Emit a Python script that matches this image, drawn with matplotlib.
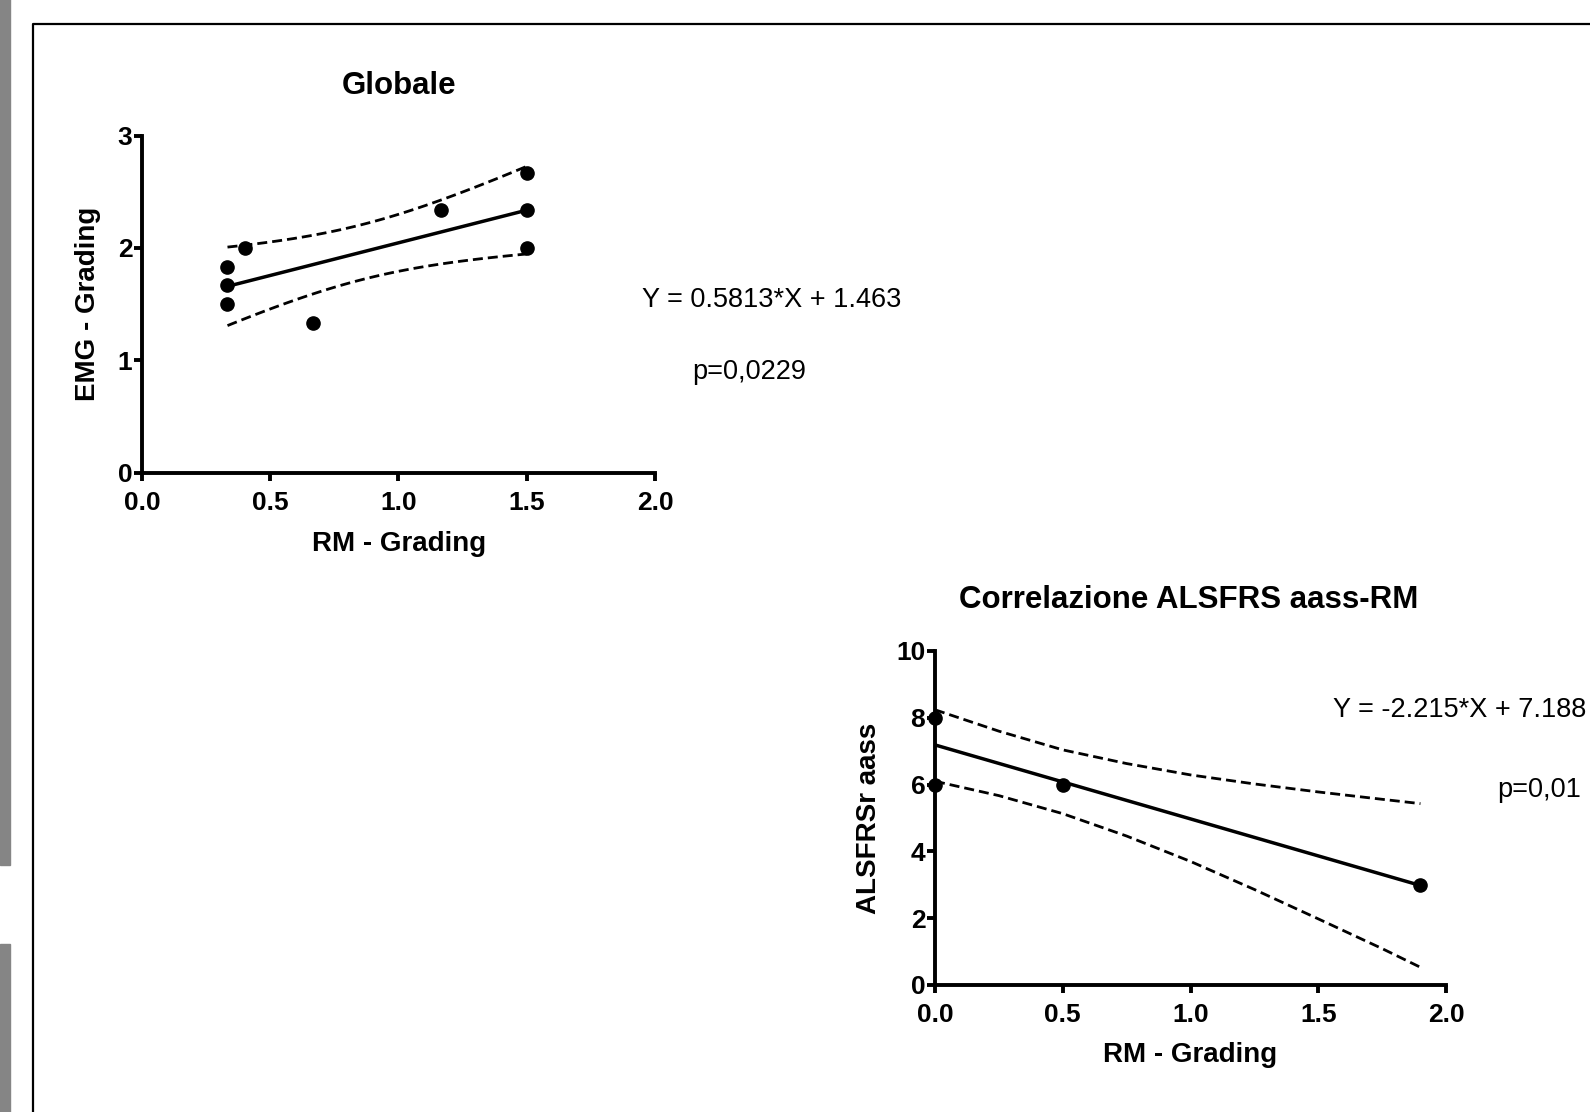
import matplotlib.pyplot as plt
import numpy as np
from matplotlib.patches import Rectangle
from matplotlib.lines import Line2D

W, H = 1590, 1112

# Globale: RM grading vs EMG grading
rm_glob = [1/3, 1/3, 1/3, 0.4, 2/3, 7/6, 1.5, 1.5, 1.5]
emg_glob = [1.833, 1.667, 1.5, 2.0, 1.333, 2.333, 2.667, 2.333, 2.0]
t_glob = 2.365  # t(0.975, df=7)

# Correlazione ALSFRS aass-RM
rm_als = [0, 0, 0.5, 1.9]
als = [8, 6, 6, 3]
slope_als, icpt_als = -2.215, 7.188
band_x = [0, 0.25, 0.5, 0.75, 1.0, 1.25, 1.5, 1.75, 1.9]
band_hi = [8.24, 7.60, 7.04, 6.63, 6.29, 6.02, 5.78, 5.56, 5.43]
band_lo = [6.10, 5.67, 5.13, 4.46, 3.70, 2.86, 1.98, 1.09, 0.53]

xticks = [0, 0.5, 1.0, 1.5, 2.0]
xticklabels = ['0.0', '0.5', '1.0', '1.5', '2.0']

plt.rcParams['font.family'] = ['Liberation Sans', 'DejaVu Sans']

fig = plt.figure(figsize=(W / 100, H / 100), dpi=100)


def fx(x):
    return x / W


def fy(y):
    return 1 - y / H


def axes_px(left, top, right, bottom):
    return fig.add_axes([fx(left), fy(bottom), (right - left) / W, (bottom - top) / H])


def style(ax, ylim, yticks):
    for s in ['top', 'right']:
        ax.spines[s].set_visible(False)
    for s in ['left', 'bottom']:
        ax.spines[s].set_linewidth(2.8)
    ax.set_xlim(0, 2)
    ax.set_ylim(*ylim)
    ax.set_xticks(xticks)
    ax.set_xticklabels(xticklabels)
    ax.set_yticks(yticks)
    ax.tick_params(width=2.8, length=6, labelsize=19)
    ax.tick_params(axis='x', pad=7)
    ax.tick_params(axis='y', pad=1)
    for lab in ax.get_xticklabels() + ax.get_yticklabels():
        lab.set_fontweight('bold')
    ax.patch.set_visible(False)


dash = (0, (3.6, 1.8))

# --- chart 1
ax1 = axes_px(142, 135.5, 655, 472.5)
style(ax1, (0, 3), [0, 1, 2, 3])
x1 = np.array(rm_glob)
y1 = np.array(emg_glob)
b, a = np.polyfit(x1, y1, 1)
xs = np.linspace(x1.min(), x1.max(), 60)
fit = a + b * xs
s = np.sqrt(np.sum((y1 - (a + b * x1)) ** 2) / (len(x1) - 2))
sxx = np.sum((x1 - x1.mean()) ** 2)
half = t_glob * s * np.sqrt(1 / len(x1) + (xs - x1.mean()) ** 2 / sxx)
ax1.plot(xs, fit, color='black', lw=2.5)
ax1.plot(xs, fit + half, color='black', lw=2, ls=dash)
ax1.plot(xs, fit - half, color='black', lw=2, ls=dash)
ax1.plot(x1, y1, 'o', color='black', ms=9.5, clip_on=False)

fig.text(fx(399), fy(86), 'Globale', ha='center', va='center', fontsize=22.5, fontweight='bold')
fig.text(fx(399), fy(551), 'RM - Grading', ha='center', va='baseline', fontsize=20, fontweight='bold')
fig.text(fx(88), fy(304), 'EMG - Grading', ha='center', va='center', rotation=90, fontsize=20, fontweight='bold')
fig.text(fx(642), fy(300), 'Y = 0.5813*X + 1.463', ha='left', va='center', fontsize=19.5)
fig.text(fx(692), fy(372), 'p=0,0229', ha='left', va='center', fontsize=19.5)

# --- chart 2
ax2 = axes_px(935, 651, 1446, 985)
style(ax2, (0, 10), [0, 2, 4, 6, 8, 10])
xl = np.array([0, 1.9])
ax2.plot(xl, slope_als * xl + icpt_als, color='black', lw=2.5)
ax2.plot(band_x, band_hi, color='black', lw=2, ls=dash)
ax2.plot(band_x, band_lo, color='black', lw=2, ls=dash)
ax2.plot(rm_als, als, 'o', color='black', ms=9.5, clip_on=False)

fig.text(fx(1189), fy(600), 'Correlazione ALSFRS aass-RM', ha='center', va='center', fontsize=22.5, fontweight='bold')
fig.text(fx(1190), fy(1062), 'RM - Grading', ha='center', va='baseline', fontsize=20, fontweight='bold')
fig.text(fx(869), fy(818), 'ALSFRSr aass', ha='center', va='center', rotation=90, fontsize=20, fontweight='bold')
fig.text(fx(1333), fy(710), 'Y = -2.215*X + 7.188', ha='left', va='center', fontsize=19.5)
fig.text(fx(1497), fy(790), 'p=0,01', ha='left', va='center', fontsize=19.5)

# frame and grey strips of the page
fig.add_artist(Line2D([fx(33), fx(33), fx(1600)], [fy(1120), fy(24), fy(24)],
                      color='black', lw=1.6, transform=fig.transFigure))
fig.add_artist(Rectangle((fx(0), fy(865)), 10 / W, 875 / H, color='#858585',
                         transform=fig.transFigure))
fig.add_artist(Rectangle((fx(0), fy(1120)), 10 / W, 176 / H, color='#858585',
                         transform=fig.transFigure))

fig.savefig('out.png', dpi=100)
